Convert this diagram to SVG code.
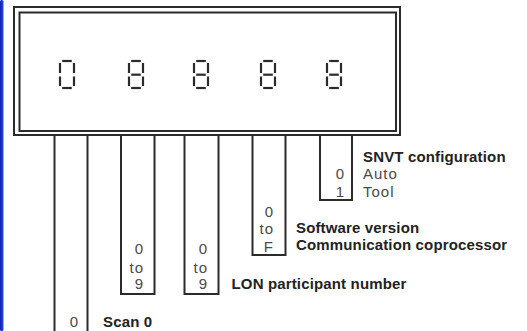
<svg xmlns="http://www.w3.org/2000/svg" xmlns:xlink="http://www.w3.org/1999/xlink" width="527" height="331" viewBox="0 0 527 331">
  <style>
    .frame { fill: none; stroke: #2b2b2b; stroke-width: 2; }
    .strip { fill: none; stroke: #2b2b2b; stroke-width: 2; }
    .seg { stroke: #2a2a2a; stroke-width: 2.2; stroke-linecap: butt; }
    .val { font-family: "Liberation Sans", Arial, sans-serif; font-size: 15px; fill: #4a4a4a; letter-spacing: 1px; text-anchor: end; }
    .txt { font-family: "Liberation Sans", Arial, sans-serif; font-size: 15px; fill: #4a4a4a; letter-spacing: 1px; }
    .lbl { font-family: "Liberation Sans", Arial, sans-serif; font-size: 15px; font-weight: bold; fill: #222; letter-spacing: 0.15px; }
  </style>
  <defs>
    <linearGradient id="edgeBlue" x1="0" y1="0" x2="1" y2="0">
      <stop offset="0" stop-color="#0a1fb0"/>
      <stop offset="1" stop-color="#2a4ee0"/>
    </linearGradient>
    <!-- seven-segment glyph parts, 14 wide x 27 tall -->
    <g id="segOuter">
      <line class="seg" x1="2.2" y1="0" x2="11.8" y2="0"/>
      <line class="seg" x1="0" y1="2" x2="0" y2="12"/>
      <line class="seg" x1="14" y1="2" x2="14" y2="12"/>
      <line class="seg" x1="0" y1="15.5" x2="0" y2="25"/>
      <line class="seg" x1="14" y1="15.5" x2="14" y2="25"/>
      <line class="seg" x1="2.2" y1="27" x2="11.8" y2="27"/>
    </g>
    <g id="digit0">
      <use xlink:href="#segOuter"/>
    </g>
    <g id="digit8">
      <use xlink:href="#segOuter"/>
      <line class="seg" x1="2.2" y1="13.7" x2="11.8" y2="13.7"/>
    </g>
  </defs>

  <rect width="527" height="331" fill="#ffffff"/>
  <!-- left window edge -->
  <rect x="0" y="0" width="3.5" height="331" rx="1.5" fill="url(#edgeBlue)"/>

  <!-- display housing with the five digit readout -->
  <g id="display">
    <rect class="frame" x="14" y="7" width="386" height="128"/>
    <rect class="frame" x="19.5" y="12.5" width="376.5" height="118.5"/>
    <use xlink:href="#digit0" x="60" y="61"/>
    <use xlink:href="#digit8" x="129" y="61"/>
    <use xlink:href="#digit8" x="194" y="61"/>
    <use xlink:href="#digit8" x="261" y="61"/>
    <use xlink:href="#digit8" x="327" y="61"/>
  </g>

  <!-- digit 1: scan -->
  <g id="strip-scan">
    <path class="strip" d="M54.5 135 V332 M87.5 135 V332"/>
    <text class="val" x="79" y="327">0</text>
    <text class="lbl" x="103" y="327">Scan 0</text>
  </g>

  <!-- digits 2 and 3: LON participant number -->
  <g id="strip-lon-tens">
    <path class="strip" d="M121 135 V294 H154.5 V135"/>
    <text class="val" x="144" y="254">0</text>
    <text class="val" x="144" y="272.5">to</text>
    <text class="val" x="144" y="289">9</text>
  </g>
  <g id="strip-lon-units">
    <path class="strip" d="M184.5 135 V294 H218.5 V135"/>
    <text class="val" x="208" y="254">0</text>
    <text class="val" x="208" y="272.5">to</text>
    <text class="val" x="208" y="289">9</text>
    <text class="lbl" x="231.5" y="289">LON participant number</text>
  </g>

  <!-- digit 4: software version -->
  <g id="strip-software">
    <path class="strip" d="M252.5 135 V255 H285.5 V135"/>
    <text class="val" x="274" y="217">0</text>
    <text class="val" x="274" y="234">to</text>
    <text class="val" x="274" y="251.5">F</text>
    <text class="lbl" x="296" y="233">Software version</text>
    <text class="lbl" x="296" y="249.5">Communication coprocessor</text>
  </g>

  <!-- digit 5: SNVT configuration -->
  <g id="strip-snvt">
    <path class="strip" d="M320 135 V200 H352 V135"/>
    <text class="val" x="345" y="179">0</text>
    <text class="val" x="345" y="196.5">1</text>
    <text class="lbl" x="363" y="162">SNVT configuration</text>
    <text class="txt" x="363" y="179">Auto</text>
    <text class="txt" x="363" y="196.5">Tool</text>
  </g>
</svg>
